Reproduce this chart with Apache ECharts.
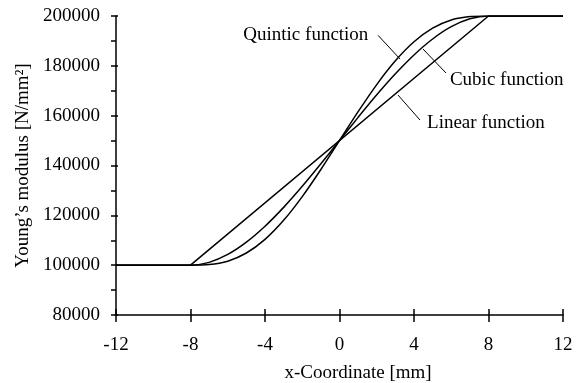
<!DOCTYPE html>
<html>
<head>
<meta charset="utf-8">
<script src="https://cdn.jsdelivr.net/npm/echarts@6/dist/echarts.min.js"></script>
<style>
html,body{margin:0;padding:0;background:#fff;}
#c{width:582px;height:383px;}
</style>
</head>
<body>
<div id="c"></div>
<script>
// x positions (mm)
var xLinear = [-12, -8, 8, 12];
var yLinear = [100000, 100000, 200000, 200000];
var xCurve = [-12, -8, -7, -6, -5, -4, -3, -2, -1, 0, 1, 2, 3, 4, 5, 6, 7, 8, 12];
var yCubic = [100000, 100000, 101123, 104297, 109229, 115625, 123193, 131641, 140674, 150000,
              159326, 168359, 176807, 184375, 190771, 195703, 198877, 200000, 200000];
var yQuintic = [100000, 100000, 100222, 101605, 104877, 110352, 118001, 127521, 138403, 150000,
                161597, 172479, 181999, 189648, 195123, 198395, 199778, 200000, 200000];
var xTickValues = [-12, -8, -4, 0, 4, 8, 12];
var yTickValues = [80000, 100000, 120000, 140000, 160000, 180000, 200000];
// annotations: text, text anchor [x,y], leader line start/end in data coordinates
var annotations = [
  {text: 'Quintic function', at: [1.55, 192300], align: 'right', line: [[2.07, 192240], [3.25, 182740]]},
  {text: 'Cubic function', at: [5.93, 174300], align: 'left', line: [[4.48, 186760], [5.72, 177120]]},
  {text: 'Linear function', at: [4.70, 157000], align: 'left', line: [[3.14, 168290], [4.32, 158260]]}
];

function zip(a, b) { return a.map(function (v, i) { return [v, b[i]]; }); }

var FONT = 'Liberation Serif';
var FS = 19;
var chart = echarts.init(document.getElementById('c'), null, {renderer: 'canvas'});
var lineStyle = {color: '#000', width: 1.5};
var option = {
  animation: false,
  backgroundColor: '#fff',
  grid: {left: 116, top: 16, right: 19, bottom: 68, containLabel: false, outerBoundsMode: 'none'},
  xAxis: [{
    type: 'value', min: -12, max: 12, interval: 4,
    name: 'x-Coordinate [mm]', nameLocation: 'middle', nameGap: 49,
    nameTextStyle: {fontFamily: FONT, fontSize: FS, color: '#000', padding: [0, 0, 0, 37]},
    axisLine: {onZero: false, lineStyle: {color: '#000', width: 1.5}},
    axisTick: {length: 7, lineStyle: {color: '#000', width: 1.5}},
    axisLabel: {fontFamily: FONT, fontSize: FS, color: '#000', margin: 21,
      formatter: function (v) { return String(v); }},
    splitLine: {show: false}
  }, {
    type: 'value', min: -12, max: 12, interval: 4, position: 'bottom',
    axisLine: {show: false, onZero: false},
    axisTick: {inside: true, length: 6, lineStyle: {color: '#000', width: 1.5}},
    axisLabel: {show: false}, splitLine: {show: false}
  }],
  yAxis: [{
    type: 'value', min: 80000, max: 200000, interval: 20000,
    name: 'Young\u2019s modulus [N/mm\u00b2]', nameLocation: 'middle', nameGap: 82,
    nameTextStyle: {fontFamily: FONT, fontSize: FS, color: '#000'},
    axisLine: {onZero: false, lineStyle: {color: '#000', width: 1.5}},
    axisTick: {length: 5, lineStyle: {color: '#000', width: 1.5}},
    minorTick: {show: true, splitNumber: 2, length: 5, lineStyle: {color: '#000', width: 1.5}},
    axisLabel: {fontFamily: FONT, fontSize: FS, color: '#000', margin: 16,
      formatter: function (v) { return String(v); }},
    splitLine: {show: false}, minorSplitLine: {show: false}
  }, {
    type: 'value', min: 80000, max: 200000, interval: 20000, position: 'left',
    axisLine: {show: false, onZero: false},
    axisTick: {inside: true, length: 2, lineStyle: {color: '#000', width: 1.5}},
    axisLabel: {show: false}, splitLine: {show: false}
  }],
  series: [
    {type: 'line', name: 'Linear', data: zip(xLinear, yLinear), showSymbol: false, lineStyle: lineStyle, itemStyle: {color: '#000'}},
    {type: 'line', name: 'Cubic', data: zip(xCurve, yCubic), showSymbol: false, smooth: 0.3, lineStyle: lineStyle, itemStyle: {color: '#000'}},
    {type: 'line', name: 'Quintic', data: zip(xCurve, yQuintic), showSymbol: false, smooth: 0.3, lineStyle: lineStyle, itemStyle: {color: '#000'}}
  ]
};
chart.setOption(option);

var g = [];
annotations.forEach(function (a) {
  var p = chart.convertToPixel({gridIndex: 0}, a.at);
  var l0 = chart.convertToPixel({gridIndex: 0}, a.line[0]);
  var l1 = chart.convertToPixel({gridIndex: 0}, a.line[1]);
  g.push({type: 'line', shape: {x1: l0[0], y1: l0[1], x2: l1[0], y2: l1[1]}, style: {stroke: '#000', lineWidth: 1}});
  g.push({type: 'text', x: p[0], y: p[1], style: {text: a.text, font: FS + 'px "Liberation Serif"', fill: '#000', textAlign: a.align, textVerticalAlign: 'middle'}});
});
chart.setOption({graphic: g});
</script>
</body>
</html>
